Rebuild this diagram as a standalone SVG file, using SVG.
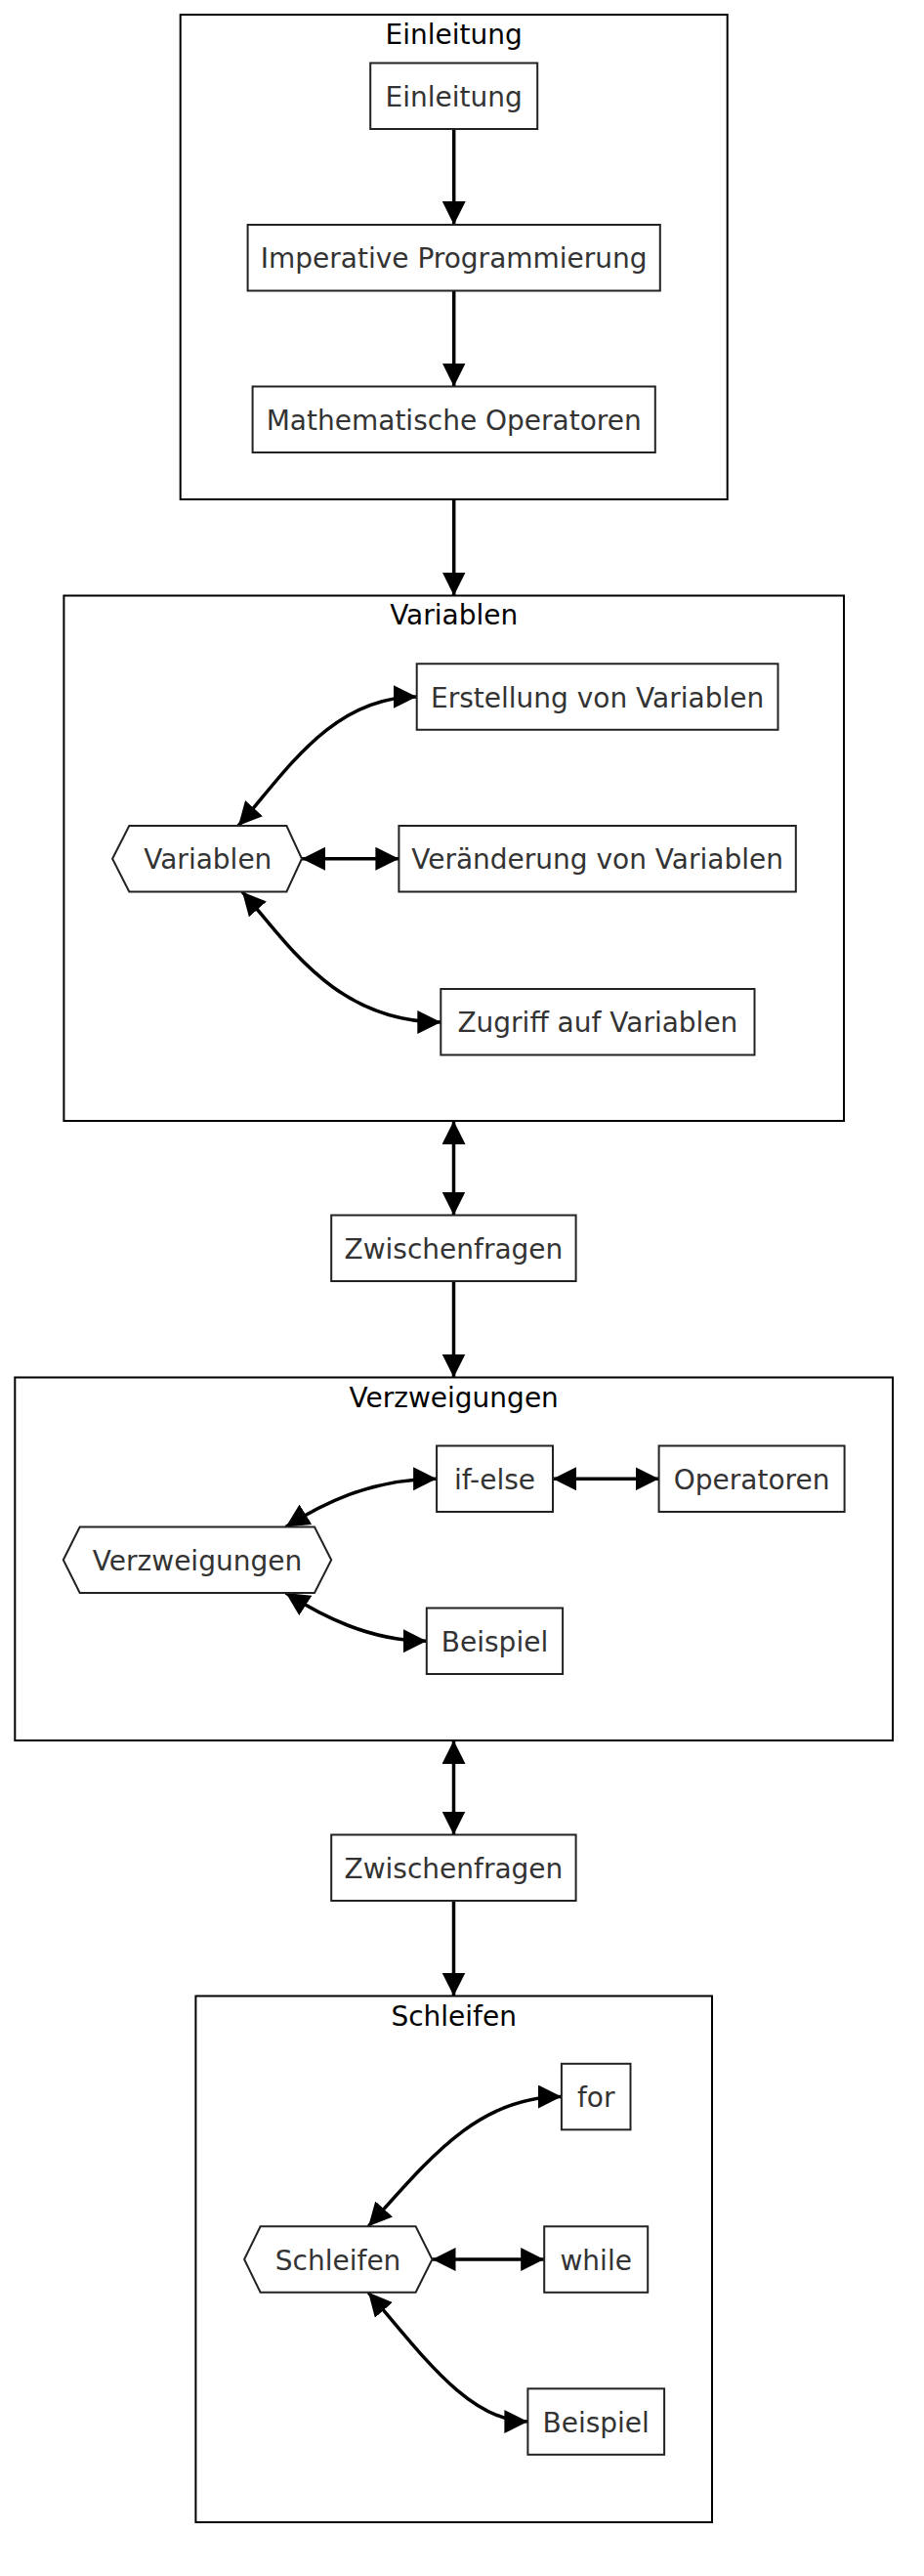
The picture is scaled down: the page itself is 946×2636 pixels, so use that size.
<svg xmlns="http://www.w3.org/2000/svg" width="946" height="2636" viewBox="0 0 946 2636">
<style>
.cluster{fill:#ffffff;stroke:#000000;stroke-width:2}
.node{fill:#ffffff;stroke:#222222;stroke-width:2}
.ttl{font-family:"DejaVu Sans",sans-serif;font-size:28px;fill:#000000;text-anchor:middle}
.lbl{font-family:"DejaVu Sans",sans-serif;font-size:28px;fill:#333333;text-anchor:middle}
.edge{fill:none;stroke:#000000;stroke-width:3.5}
.one{marker-end:url(#arr)}
.two{marker-start:url(#arr);marker-end:url(#arr)}
</style>
<defs>
<marker id="arr" viewBox="0 0 10 10" refX="10" refY="5" markerWidth="24" markerHeight="24" markerUnits="userSpaceOnUse" orient="auto-start-reverse">
<path d="M0,0 L10,5 L0,10 z" fill="#000000"/>
</marker>
</defs>
<rect width="946" height="2636" fill="#ffffff"/>

<g id="cluster-Einleitung">
<rect class="cluster" x="184.7" y="15" width="560" height="496"/>
<text class="ttl" x="464.7" y="45">Einleitung</text>
</g>
<g id="cluster-Variablen">
<rect class="cluster" x="65.4" y="609.5" width="798.6" height="537.5"/>
<text class="ttl" x="464.7" y="639">Variablen</text>
</g>
<g id="cluster-Verzweigungen">
<rect class="cluster" x="15.3" y="1409.5" width="898.7" height="371.5"/>
<text class="ttl" x="464.7" y="1440">Verzweigungen</text>
</g>
<g id="cluster-Schleifen">
<rect class="cluster" x="200.4" y="2042.5" width="528.6" height="538.5"/>
<text class="ttl" x="464.7" y="2072.5">Schleifen</text>
</g>

<g id="connectors">
<path class="edge one" d="M464.7,132 L464.7,230"/>
<path class="edge one" d="M464.7,297.5 L464.7,395.5"/>
<path class="edge one" d="M464.7,511 L464.7,609.5"/>
<path class="edge two" d="M464.5,1147 L464.5,1243.5"/>
<path class="edge one" d="M464.5,1311 L464.5,1409.5"/>
<path class="edge two" d="M464.5,1781 L464.5,1877.5"/>
<path class="edge one" d="M464.5,1945 L464.5,2042.5"/>
<path class="edge two" d="M244,845 C289.7,794 338.3,713 426.7,713"/>
<path class="edge two" d="M309,878.75 L408.4,878.75"/>
<path class="edge two" d="M248,912.5 C293.6,964 343.3,1046 451.3,1046"/>
<path class="edge two" d="M292.6,1562.5 C328.4,1540 378.3,1513.25 447.1,1513.25"/>
<path class="edge two" d="M566,1513.25 L674.6,1513.25"/>
<path class="edge two" d="M292.6,1630 C328.4,1653 378.3,1679.25 436.8,1679.25"/>
<path class="edge two" d="M377.1,2278.3 C438.8,2210 488.6,2145.5 574.9,2145.5"/>
<path class="edge two" d="M442.5,2312 L557.2,2312"/>
<path class="edge two" d="M377.1,2345.8 C428.9,2405 478.7,2478 540.4,2478"/>
</g>

<g id="node-Einleitung">
<rect class="node" x="379.2" y="64.5" width="171" height="67.5"/>
<text class="lbl" x="464.7" y="108.8">Einleitung</text>
</g>
<g id="node-Imperative">
<rect class="node" x="253.6" y="230" width="422.2" height="67.5"/>
<text class="lbl" x="464.7" y="274.3">Imperative Programmierung</text>
</g>
<g id="node-Mathematische">
<rect class="node" x="258.6" y="395.5" width="412.2" height="67.5"/>
<text class="lbl" x="464.7" y="439.8">Mathematische Operatoren</text>
</g>

<g id="node-Variablen">
<polygon class="node" points="115.1,878.75 132.3,845 293.4,845 309,878.75 293.4,912.5 132.3,912.5"/>
<text class="lbl" x="212.8" y="889.3">Variablen</text>
</g>
<g id="node-Erstellung">
<rect class="node" x="426.7" y="679.25" width="369.8" height="67.5"/>
<text class="lbl" x="611.6" y="723.5">Erstellung von Variablen</text>
</g>
<g id="node-Veraenderung">
<rect class="node" x="408.4" y="845" width="406.4" height="67.5"/>
<text class="lbl" x="611.6" y="889.3">Veränderung von Variablen</text>
</g>
<g id="node-Zugriff">
<rect class="node" x="451.3" y="1012" width="321.2" height="67.5"/>
<text class="lbl" x="611.9" y="1056.3">Zugriff auf Variablen</text>
</g>

<g id="node-Zwischenfragen1">
<rect class="node" x="339.2" y="1243.5" width="250.4" height="67.5"/>
<text class="lbl" x="464.4" y="1287.8">Zwischenfragen</text>
</g>

<g id="node-Verzweigungen">
<polygon class="node" points="64.8,1596.25 81.7,1562.5 322,1562.5 339.2,1596.25 322,1630 81.7,1630"/>
<text class="lbl" x="202" y="1606.8">Verzweigungen</text>
</g>
<g id="node-ifelse">
<rect class="node" x="447.1" y="1479.5" width="118.9" height="67.5"/>
<text class="lbl" x="506.5" y="1523.8">if-else</text>
</g>
<g id="node-Operatoren">
<rect class="node" x="674.6" y="1479.5" width="190" height="67.5"/>
<text class="lbl" x="769.6" y="1523.8">Operatoren</text>
</g>
<g id="node-Beispiel1">
<rect class="node" x="436.8" y="1645.5" width="139.3" height="67.5"/>
<text class="lbl" x="506.5" y="1689.8">Beispiel</text>
</g>

<g id="node-Zwischenfragen2">
<rect class="node" x="339.2" y="1877.5" width="250.4" height="67.5"/>
<text class="lbl" x="464.4" y="1921.8">Zwischenfragen</text>
</g>

<g id="node-Schleifen">
<polygon class="node" points="250.1,2312 266.6,2278.3 425.6,2278.3 442.5,2312 425.6,2345.8 266.6,2345.8"/>
<text class="lbl" x="346.1" y="2322.5">Schleifen</text>
</g>
<g id="node-for">
<rect class="node" x="574.9" y="2111.8" width="70.6" height="67.5"/>
<text class="lbl" x="610.2" y="2156">for</text>
</g>
<g id="node-while">
<rect class="node" x="557.2" y="2278.3" width="106" height="67.5"/>
<text class="lbl" x="610.2" y="2322.5">while</text>
</g>
<g id="node-Beispiel2">
<rect class="node" x="540.4" y="2444.3" width="139.7" height="67.5"/>
<text class="lbl" x="610.2" y="2488.5">Beispiel</text>
</g>
</svg>
